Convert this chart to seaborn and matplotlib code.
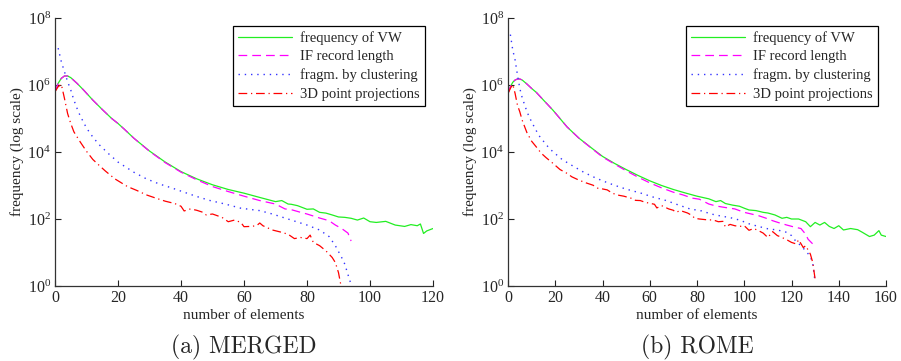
import numpy as np
import pandas as pd
import matplotlib
matplotlib.use("Agg")
import matplotlib.pyplot as plt
import seaborn as sns
from matplotlib.ticker import LogFormatterMathtext, NullLocator

# ---------------- data ----------------
series_labels = ["frequency of VW", "IF record length",
                 "fragm. by clustering", "3D point projections"]

# (a) MERGED
m_vw_x = [0, 1, 2, 3, 4, 5, 7, 9, 12, 15, 18, 20, 22, 25, 30, 35, 40, 45, 50, 55, 60, 65,
          70, 72, 74, 75, 77, 80, 82, 84, 86, 88, 90, 92, 94, 96, 98, 100, 102, 105, 108,
          111, 113, 115, 116, 117, 118, 120]
m_vw_y = [6.3e5, 1.12e6, 1.58e6, 1.86e6, 1.86e6, 1.66e6, 1.12e6, 7.2e5, 3.55e5, 1.86e5,
          1.0e5, 7.1e4, 4.8e4, 2.6e4, 1.07e4, 5.0e3, 2.6e3, 1.58e3, 1.05e3, 760, 590, 440,
          330, 355, 280, 275, 250, 195, 200, 158, 150, 132, 115, 112, 105, 93, 107, 83, 79,
          85, 66, 60, 68, 63, 71, 37, 44, 52]

m_if_x = [0, 1, 2, 3, 4, 5, 7, 9, 12, 15, 18, 20, 22, 25, 30, 35, 40, 45, 50, 55, 60, 65,
          70, 73, 75, 78, 80, 84, 87, 89, 91, 93, 94]
m_if_y = [6.3e5, 1.12e6, 1.58e6, 1.86e6, 1.86e6, 1.66e6, 1.12e6, 7.2e5, 3.55e5, 1.86e5,
          1.0e5, 7.1e4, 4.8e4, 2.6e4, 1.05e4, 4.8e3, 2.5e3, 1.48e3, 930, 660, 480, 355,
          280, 200, 190, 158, 141, 107, 89, 66, 52, 38, 22]

m_fr_x = [1, 2, 3, 4, 5, 6, 7, 8, 10, 12, 14, 17, 20, 25, 29, 33, 37, 41, 45, 49, 54, 59,
          65, 69, 75, 80, 84, 87, 89, 91, 92, 93, 94]
m_fr_y = [1.26e7, 5.0e6, 2.5e6, 1.26e6, 7.1e5, 3.55e5, 2.0e5, 1.2e5, 5.2e4, 2.8e4, 1.66e4,
          8.9e3, 5.0e3, 2.5e3, 1.58e3, 1.12e3, 850, 630, 470, 360, 280, 210, 178, 141, 93,
          66, 47, 30, 16, 7.1, 4.5, 2.2, 1.1]

m_3d_x = [0, 1, 2, 3, 4, 5, 6, 8, 10, 12, 14, 16, 19, 23, 26, 29, 32, 35, 38, 40, 41, 43,
          45, 47, 48, 50, 53, 55, 57, 59, 60, 62, 64, 65, 66, 69, 72, 74, 76, 78, 80, 81,
          82, 84, 86, 88, 89, 90, 91]
m_3d_y = [6.3e5, 8.9e5, 1.05e6, 4.0e5, 1.41e5, 7.1e4, 4.0e4, 2.0e4, 1.05e4, 6.0e3, 4.0e3,
          2.7e3, 1.58e3, 930, 710, 525, 420, 340, 290, 240, 174, 200, 182, 158, 132, 141,
          112, 83, 93, 79, 59, 60, 63, 76, 63, 47, 40, 35, 26, 28, 26, 33, 20, 16, 11.2,
          7.1, 5.0, 2.5, 0.8]

# (b) ROME
r_vw_x = [0, 1, 2, 3, 4, 5, 6, 8, 10, 12, 15, 19, 22, 25, 30, 35, 40, 45, 50, 55, 60, 65,
          70, 75, 80, 85, 88, 90, 92, 95, 98, 100, 102, 105, 108, 110, 113, 116, 118, 120,
          123, 126, 128, 130, 132, 134, 136, 138, 140, 142, 145, 148, 150, 153, 155, 157,
          158, 160]
r_vw_y = [5.6e5, 8.9e5, 1.2e6, 1.41e6, 1.51e6, 1.51e6, 1.41e6, 1.07e6, 7.9e5, 6.0e5,
          3.55e5, 1.78e5, 1.0e5, 5.6e4, 2.6e4, 1.38e4, 7.4e3, 4.6e3, 3.0e3, 2.0e3, 1.38e3,
          1.0e3, 760, 600, 480, 400, 330, 355, 290, 260, 240, 210, 186, 178, 158, 151, 132,
          105, 112, 100, 100, 83, 59, 79, 66, 79, 60, 52, 63, 47, 52, 48, 40, 30, 33, 45,
          33, 30]

r_if_x = [0, 1, 2, 3, 4, 5, 6, 8, 10, 12, 15, 19, 22, 25, 30, 35, 40, 45, 50, 55, 60, 65,
          70, 74, 78, 81, 85, 88, 92, 96, 100, 103, 106, 109, 112, 115, 118, 121, 124, 126,
          127, 129, 130]
r_if_y = [5.6e5, 8.9e5, 1.2e6, 1.41e6, 1.51e6, 1.51e6, 1.41e6, 1.07e6, 7.9e5, 6.0e5,
          3.55e5, 1.78e5, 1.0e5, 5.6e4, 2.6e4, 1.35e4, 7.1e3, 4.4e3, 2.75e3, 1.78e3, 1.2e3,
          850, 630, 525, 420, 390, 280, 245, 220, 200, 158, 141, 126, 107, 89, 76, 66, 58,
          52, 35, 25, 18, 14]

r_fr_x = [1, 2, 3, 4, 5, 6, 7, 8, 9, 11, 13, 15, 17, 19, 23, 27, 32, 36, 40, 45, 50, 56,
          61, 67, 71, 77, 82, 86, 90, 94, 98, 102, 106, 110, 114, 118, 120, 122, 124, 126,
          128, 129, 130]
r_fr_y = [3.2e7, 1.12e7, 5.6e6, 2.0e6, 7.9e5, 4.2e5, 2.6e5, 1.62e5, 1.1e5, 5.8e4, 3.16e4,
          2.1e4, 1.41e4, 1.02e4, 5.9e3, 4.0e3, 2.5e3, 1.82e3, 1.38e3, 1.02e3, 780, 600, 460,
          355, 280, 200, 174, 141, 123, 110, 93, 72, 60, 51, 47, 40, 32, 21, 16, 11.2, 7.6,
          4.7, 1.26]

r_3d_x = [0, 1, 2, 3, 4, 5, 6, 7, 8, 10, 12, 14, 16, 19, 22, 25, 27, 30, 33, 36, 38, 40,
          42, 44, 46, 49, 52, 54, 56, 58, 60, 62, 63, 65, 68, 70, 71, 73, 76, 78, 79, 81,
          84, 87, 89, 91, 92, 94, 96, 98, 100, 102, 104, 106, 108, 110, 112, 114, 116, 118,
          120, 122, 123, 125, 126, 128, 129, 130]
r_3d_y = [5.6e5, 7.9e5, 1.05e6, 5.6e5, 2.5e5, 1.58e5, 8.9e4, 5.8e4, 3.8e4, 2.1e4, 1.41e4,
          9.3e3, 6.9e3, 4.6e3, 3.0e3, 2.3e3, 1.82e3, 1.45e3, 1.2e3, 1.02e3, 830, 790, 740,
          600, 525, 480, 420, 360, 355, 316, 295, 275, 214, 251, 200, 182, 158, 178, 151,
          126, 105, 100, 95, 93, 83, 85, 58, 69, 63, 60, 63, 46, 52, 45, 38, 28, 42, 32,
          28, 24, 20, 18, 24, 14, 16, 8.9, 5.0, 1.6]

y_ticks = [1, 1e2, 1e4, 1e6, 1e8]

panels = [
    dict(title="(a) MERGED", xmax=120, xticks=[0, 20, 40, 60, 80, 100, 120],
         series=[(m_vw_x, m_vw_y), (m_if_x, m_if_y), (m_fr_x, m_fr_y), (m_3d_x, m_3d_y)]),
    dict(title="(b) ROME", xmax=160, xticks=[0, 20, 40, 60, 80, 100, 120, 140, 160],
         series=[(r_vw_x, r_vw_y), (r_if_x, r_if_y), (r_fr_x, r_fr_y), (r_3d_x, r_3d_y)]),
]

# ---------------- styling ----------------
sns.set_theme(style="ticks")
plt.rcParams["font.family"] = ["Liberation Serif", "DejaVu Serif"]
plt.rcParams["mathtext.fontset"] = "stix"
plt.rcParams["xtick.direction"] = "in"
plt.rcParams["ytick.direction"] = "in"

colors = ["#22ee22", "#ff00ff", "#3333ff", "#ff0000"]
styles = ["-", (0, (7, 4)), (0, (1, 3.5)), (0, (7, 3, 1, 3))]
widths = [0.9, 0.9, 1.0, 0.9]

W, H = 901, 361
fig = plt.figure(figsize=(W / 100, H / 100), dpi=100)

axes_px = [(55, 433), (508, 886)]
top_px, bot_px = 18, 286

for (l, r), p in zip(axes_px, panels):
    ax = fig.add_axes([l / W, 1 - bot_px / H, (r - l) / W, (bot_px - top_px) / H])
    for (xs, ys), lab, c, ls, lw in zip(p["series"], series_labels, colors, styles, widths):
        df = pd.DataFrame({"x": xs, "y": ys})
        sns.lineplot(data=df, x="x", y="y", ax=ax, color=c, linestyle=ls,
                     linewidth=lw, label=lab, estimator=None, sort=False)
    ax.set_yscale("log")
    ax.set_ylim(1, 1e8)
    ax.set_xlim(0, p["xmax"])
    ax.set_xticks(p["xticks"])
    ax.set_yticks(y_ticks)
    ax.yaxis.set_major_formatter(LogFormatterMathtext())
    ax.yaxis.set_minor_locator(NullLocator())
    ax.xaxis.set_minor_locator(NullLocator())
    ax.tick_params(axis="both", which="major", length=4, width=0.8, labelsize=11.5,
                   color="#222222", pad=3)
    for s in ["top", "right"]:
        ax.spines[s].set_visible(False)
    for s in ["left", "bottom"]:
        ax.spines[s].set_linewidth(0.9)
        ax.spines[s].set_color("#333333")
    ax.set_xlabel("number of elements", fontsize=11, labelpad=2)
    ax.set_ylabel("frequency (log scale)", fontsize=11, labelpad=2)
    ax.set_facecolor("white")
    leg = ax.legend(loc="upper right", bbox_to_anchor=(0.979, 0.970), borderaxespad=0,
                    fontsize=10.5, frameon=True, fancybox=False, framealpha=1,
                    edgecolor="black", handlelength=3.7, labelspacing=0.36,
                    borderpad=0.35, handletextpad=0.6)
    leg.get_frame().set_linewidth(0.9)
    cx = (l + r) / 2 / W
    fig.text(cx, 1 - 347 / H, p["title"], ha="center", va="center",
             fontsize=17, family=["cmr10", "DejaVu Serif"])

fig.savefig("out.png", dpi=100, facecolor="white")
